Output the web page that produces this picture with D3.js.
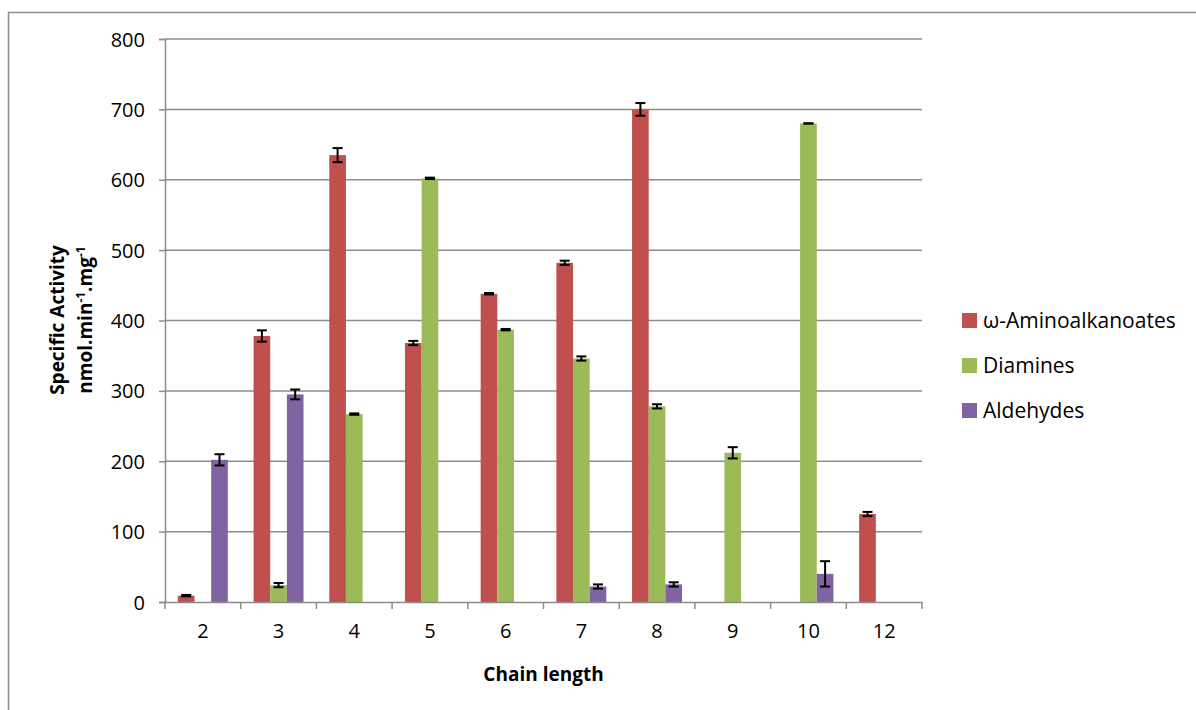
<!DOCTYPE html>
<html>
<head>
<meta charset="utf-8">
<script src="https://cdn.jsdelivr.net/npm/d3@7"></script>
<style>
  body { margin: 0; background: #fff; }
  text { font-family: "Open Sans", "Liberation Sans", sans-serif; fill: #000; }
</style>
</head>
<body>
<div id="vis"></div>
<script>
// chart data
let categories = ['2', '3', '4', '5', '6', '7', '8', '9', '10', '12'];
let seriesNames = ['\u03c9-Aminoalkanoates', 'Diamines', 'Aldehydes'];
let aminoalkanoates = [9, 378, 635, 368, 438, 482, 700, null, null, 125];
let aminoalkanoatesErr = [1, 8, 10, 3, 1, 3, 9, null, null, 3];
let diamines = [null, 24, 267, 602, 387, 346, 278, 212, 680, null];
let diaminesErr = [null, 3, 1, 1, 1, 3, 3, 8, 0, null];
let aldehydes = [202, 295, null, null, null, 22, 25, null, 40, null];
let aldehydesErr = [8, 7, null, null, null, 3, 3, null, 18, null];
let yTicks = [0, 100, 200, 300, 400, 500, 600, 700, 800];
let colors = ['#C0504D', '#9BBB59', '#8064A2'];

let margin = { top: 39, left: 165, right: 274, bottom: 108 },
  width = 1196 - margin.left - margin.right,
  height = 710 - margin.top - margin.bottom;

let series = [
  { name: seriesNames[0], values: aminoalkanoates, errs: aminoalkanoatesErr, color: colors[0] },
  { name: seriesNames[1], values: diamines, errs: diaminesErr, color: colors[1] },
  { name: seriesNames[2], values: aldehydes, errs: aldehydesErr, color: colors[2] }
];

let svg = d3.select('#vis')
  .append('svg')
  .attr('width', 1196)
  .attr('height', 710);

// outer chart frame
svg.append('rect')
  .attr('x', 8.5).attr('y', 12.5)
  .attr('width', 1300).attr('height', 800)
  .attr('fill', 'none')
  .attr('stroke', '#8c8c8c')
  .attr('stroke-width', 1.5);

let g = svg.append('g')
  .attr('transform', 'translate(' + margin.left + ',' + margin.top + ')');

// Scales
let xScale = d3.scaleBand()
  .domain(categories)
  .range([0, width])
  .paddingInner(0)
  .paddingOuter(0);
let groupWidth = xScale.bandwidth() * 0.66;
let xInner = d3.scaleBand()
  .domain(seriesNames)
  .range([(xScale.bandwidth() - groupWidth) / 2, (xScale.bandwidth() + groupWidth) / 2]);
let yScale = d3.scaleLinear()
  .domain([0, 800])
  .range([height, 0]);

// gridlines
g.selectAll('.grid')
  .data(yTicks.filter(function (d) { return d > 0 }))
  .enter()
  .append('line')
    .attr('x1', 0).attr('x2', width)
    .attr('y1', function (d) { return yScale(d) })
    .attr('y2', function (d) { return yScale(d) })
    .attr('stroke', '#8c8c8c')
    .attr('stroke-width', 1.5);

// Bars + error bars, one series at a time
series.forEach(function (s) {
  let pts = categories.map(function (c, i) { return { c: c, v: s.values[i], e: s.errs[i] } })
    .filter(function (d) { return d.v !== null });
  g.selectAll(null)
    .data(pts)
    .enter()
    .append('rect')
      .attr('x', function (d) { return xScale(d.c) + xInner(s.name) })
      .attr('width', xInner.bandwidth())
      .attr('y', function (d) { return yScale(d.v) })
      .attr('height', function (d) { return height - yScale(d.v) })
      .attr('fill', s.color);
  let eb = g.selectAll(null)
    .data(pts)
    .enter()
    .append('g')
      .attr('stroke', '#000')
      .attr('stroke-width', 2);
  let cx = function (d) { return xScale(d.c) + xInner(s.name) + xInner.bandwidth() / 2 };
  eb.append('line')
    .attr('x1', cx).attr('x2', cx)
    .attr('y1', function (d) { return yScale(d.v + d.e) })
    .attr('y2', function (d) { return yScale(d.v - d.e) });
  [1, -1].forEach(function (sign) {
    eb.append('line')
      .attr('x1', function (d) { return cx(d) - 5 })
      .attr('x2', function (d) { return cx(d) + 5 })
      .attr('y1', function (d) { return yScale(d.v + sign * d.e) })
      .attr('y2', function (d) { return yScale(d.v + sign * d.e) });
  });
});

// Y-axis
let yAxis = d3.axisLeft(yScale).tickValues(yTicks).tickSize(6).tickPadding(14);
let yg = g.append('g').call(yAxis);
yg.select('.domain').attr('stroke', '#8c8c8c').attr('stroke-width', 1.5);
yg.selectAll('.tick line').attr('stroke', '#8c8c8c').attr('stroke-width', 1.5);
yg.selectAll('.tick text').style('font-size', '20px').attr('dy', '0.35em');

// X-axis
let xAxis = d3.axisBottom(xScale).tickSize(0).tickPadding(22);
let xg = g.append('g')
  .attr('transform', 'translate(0,' + height + ')')
  .call(xAxis);
xg.select('.domain').attr('stroke', '#8c8c8c').attr('stroke-width', 1.5);
xg.selectAll('.tick text').style('font-size', '20px');
xg.selectAll('.cattick')
  .data(d3.range(categories.length + 1))
  .enter()
  .append('line')
    .attr('x1', function (i) { return i * xScale.step() })
    .attr('x2', function (i) { return i * xScale.step() })
    .attr('y1', 0).attr('y2', 7)
    .attr('stroke', '#8c8c8c')
    .attr('stroke-width', 1.5);

// axis labels
svg.append('text')
  .attr('x', margin.left + width / 2)
  .attr('y', 681)
  .attr('text-anchor', 'middle')
  .style('font-size', '19px')
  .style('font-weight', 'bold')
  .text('Chain length');

let yl = svg.append('text')
  .attr('transform', 'translate(64,320) rotate(-90)')
  .attr('text-anchor', 'middle')
  .style('font-size', '19px')
  .style('font-weight', 'bold');
yl.append('tspan').attr('x', 0).attr('y', 0).text('Specific Activity');
let l2 = yl.append('tspan').attr('x', 0).attr('y', 28);
l2.append('tspan').text('nmol.min');
l2.append('tspan').attr('dy', -7).style('font-size', '12px').text('-1');
l2.append('tspan').attr('dy', 7).text('.mg');
l2.append('tspan').attr('dy', -7).style('font-size', '12px').text('-1');

// Legend
let legend = svg.selectAll('.legend')
  .data(series)
  .enter()
  .append('g')
    .attr('transform', function (d, i) { return 'translate(962,' + (313 + i * 45) + ')' });
legend.append('rect')
  .attr('width', 15).attr('height', 15)
  .attr('fill', function (d) { return d.color });
legend.append('text')
  .attr('x', 21).attr('y', 7.5)
  .attr('dy', '0.35em')
  .style('font-size', '21px')
  .text(function (d) { return d.name });
</script>
</body>
</html>
